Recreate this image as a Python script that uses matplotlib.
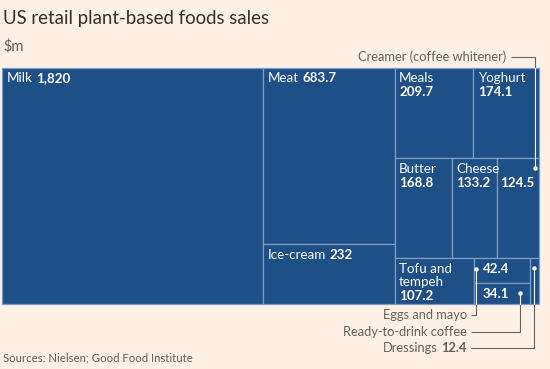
import matplotlib
matplotlib.use('Agg')
import matplotlib.pyplot as plt
from matplotlib.patches import Rectangle

# data ($m)
categories = ['Milk', 'Meat', 'Ice-cream', 'Meals', 'Yoghurt', 'Butter', 'Cheese',
              'Creamer (coffee whitener)', 'Tofu and tempeh', 'Eggs and mayo',
              'Ready-to-drink coffee', 'Dressings']
sales = [1820, 683.7, 232, 209.7, 174.1, 168.8, 133.2, 124.5, 107.2, 42.4, 34.1, 12.4]
value_labels = ['1,820', '683.7', '232', '209.7', '174.1', '168.8', '133.2', '124.5',
                '107.2', '42.4', '34.1', '12.4']

BG = '#FFF1E5'
BLUE = '#1E4F87'
EDGE = '#7F9DC4'
GREY = '#66605C'
FONT = 'Lato'

plt.rcParams['font.family'] = [FONT, 'DejaVu Sans']


def squarify(values, x0, y0, x1, y1, ratio=(1 + 5 ** 0.5) / 2):
    # d3-style squarified layout, y grows downwards
    rects = []
    total = float(sum(values))
    n = len(values)
    i0 = 0
    while i0 < n:
        dx, dy = x1 - x0, y1 - y0
        s = values[i0]
        i1 = i0 + 1
        vmin = vmax = s
        alpha = max(dy / dx, dx / dy) / (total * ratio)
        beta = s * s * alpha
        best = max(vmax / beta, beta / vmin)
        while i1 < n:
            v = values[i1]
            beta = (s + v) ** 2 * alpha
            r = max(max(vmax, v) / beta, beta / min(vmin, v))
            if r > best:
                break
            s += v
            vmin, vmax = min(vmin, v), max(vmax, v)
            best = r
            i1 += 1
        row = values[i0:i1]
        if dx < dy:
            h = dy * s / total
            x = x0
            for v in row:
                w = dx * v / s
                rects.append((x, y0, w, h))
                x += w
            y0 += h
        else:
            w = dx * s / total
            y = y0
            for v in row:
                h = dy * v / s
                rects.append((x0, y, w, h))
                y += h
            x0 += w
        total -= s
        i0 = i1
    return rects


fig = plt.figure(figsize=(5.5, 3.69), dpi=100, facecolor=BG)
ax = fig.add_axes([0, 0, 1, 1])
ax.set_xlim(0, 550)
ax.set_ylim(369, 0)
ax.axis('off')

rects = squarify(sales, 2, 67.5, 539, 303.5)
for (x, y, w, h) in rects:
    ax.add_patch(Rectangle((x, y), w, h, facecolor=BLUE, edgecolor=EDGE, lw=0.9))

FS = 9.6
LH = 14
NOTE = 9.3


def cell_label(i, lines, inline=False, dx=4.5, dy=15):
    x, y, w, h = rects[i]
    if inline:
        t = ax.text(x + dx, y + dy, lines[0], color='white', fontsize=FS, va='baseline')
        ax.annotate(value_labels[i], xy=(1, 0), xycoords=t, xytext=(2.5, 0),
                    textcoords='offset points', color='white', fontsize=FS,
                    fontweight='bold', va='bottom')
        return
    for k, s in enumerate(lines):
        ax.text(x + dx, y + dy + k * LH, s, color='white', fontsize=FS, va='baseline')
    ax.text(x + dx, y + dy + len(lines) * LH, value_labels[i], color='white',
            fontsize=FS, fontweight='bold', va='baseline')


cell_label(0, ['Milk'], inline=True)
cell_label(1, ['Meat'], inline=True)
cell_label(2, ['Ice-cream'], inline=True)
cell_label(3, ['Meals'])
cell_label(4, ['Yoghurt'])
cell_label(5, ['Butter'])
cell_label(6, ['Cheese'])
cell_label(7, [''], dx=3)
ax.text(rects[8][0] + 4.5, rects[8][1] + 15, 'Tofu and', color='white', fontsize=FS, va='baseline')
ax.text(rects[8][0] + 4.5, rects[8][1] + 28.5, 'tempeh', color='white', fontsize=FS, va='baseline')
ax.text(rects[8][0] + 4.5, rects[8][1] + 42, value_labels[8], color='white', fontsize=FS,
        fontweight='bold', va='baseline')
ax.text(rects[9][0] + 9, rects[9][1] + 15, value_labels[9], color='white', fontsize=FS,
        fontweight='bold', va='baseline')
ax.text(rects[10][0] + 9, rects[10][1] + 15, value_labels[10], color='white', fontsize=FS,
        fontweight='bold', va='baseline')


def leader(label_end, label_y, dot, inside_from):
    # grey outside the boxes, white inside, dot at the end
    dxp, dyp = dot
    ax.plot([label_end, dxp, dxp], [label_y, label_y, inside_from], color=GREY, lw=0.8,
            solid_capstyle='butt')
    ax.plot([dxp, dxp], [inside_from, dyp], color='white', lw=0.8)
    ax.plot([dxp], [dyp], 'o', color='white', ms=2.2)


# creamer
cx, cy, cw, ch = rects[7]
ax.text(506, 57, categories[7], color=GREY, fontsize=NOTE, ha='right', va='center')
leader(511, 57, (cx + cw - 4, cy + 10), 67.5)

# bottom notes
ex, ey, ew, eh = rects[9]
rx, ry, rw, rh = rects[10]
dx_, dy_, dw_, dh_ = rects[11]
bottom = 303.5
ax.text(467, 315, categories[9], color=GREY, fontsize=NOTE, ha='right', va='center')
leader(471, 315, (ex + 2.5, ey + 11), bottom)
ax.text(467, 331.5, categories[10], color=GREY, fontsize=NOTE, ha='right', va='center')
leader(471, 331.5, (rx + rw - 10, ry + 10), bottom)
t = ax.text(467, 348, value_labels[11], color=GREY, fontsize=NOTE, fontweight='bold',
            ha='right', va='center')
ax.annotate(categories[11], xy=(0, 0.5), xycoords=t, xytext=(-2.5, 0),
            textcoords='offset points', color=GREY, fontsize=NOTE, ha='right', va='center')
leader(471, 348, (dx_ + dw_ / 2, dy_ + 10), bottom)

# titles
ax.text(3, 24, 'US retail plant-based foods sales', fontsize=13.4, color='#33302E', va='baseline')
ax.text(3, 50, '$m', fontsize=10.5, color=GREY, va='baseline')
ax.text(3, 358, 'Sources: Nielsen; Good Food Institute', fontsize=8.2, color=GREY, va='center')

fig.savefig('out.png', dpi=100, facecolor=BG)
